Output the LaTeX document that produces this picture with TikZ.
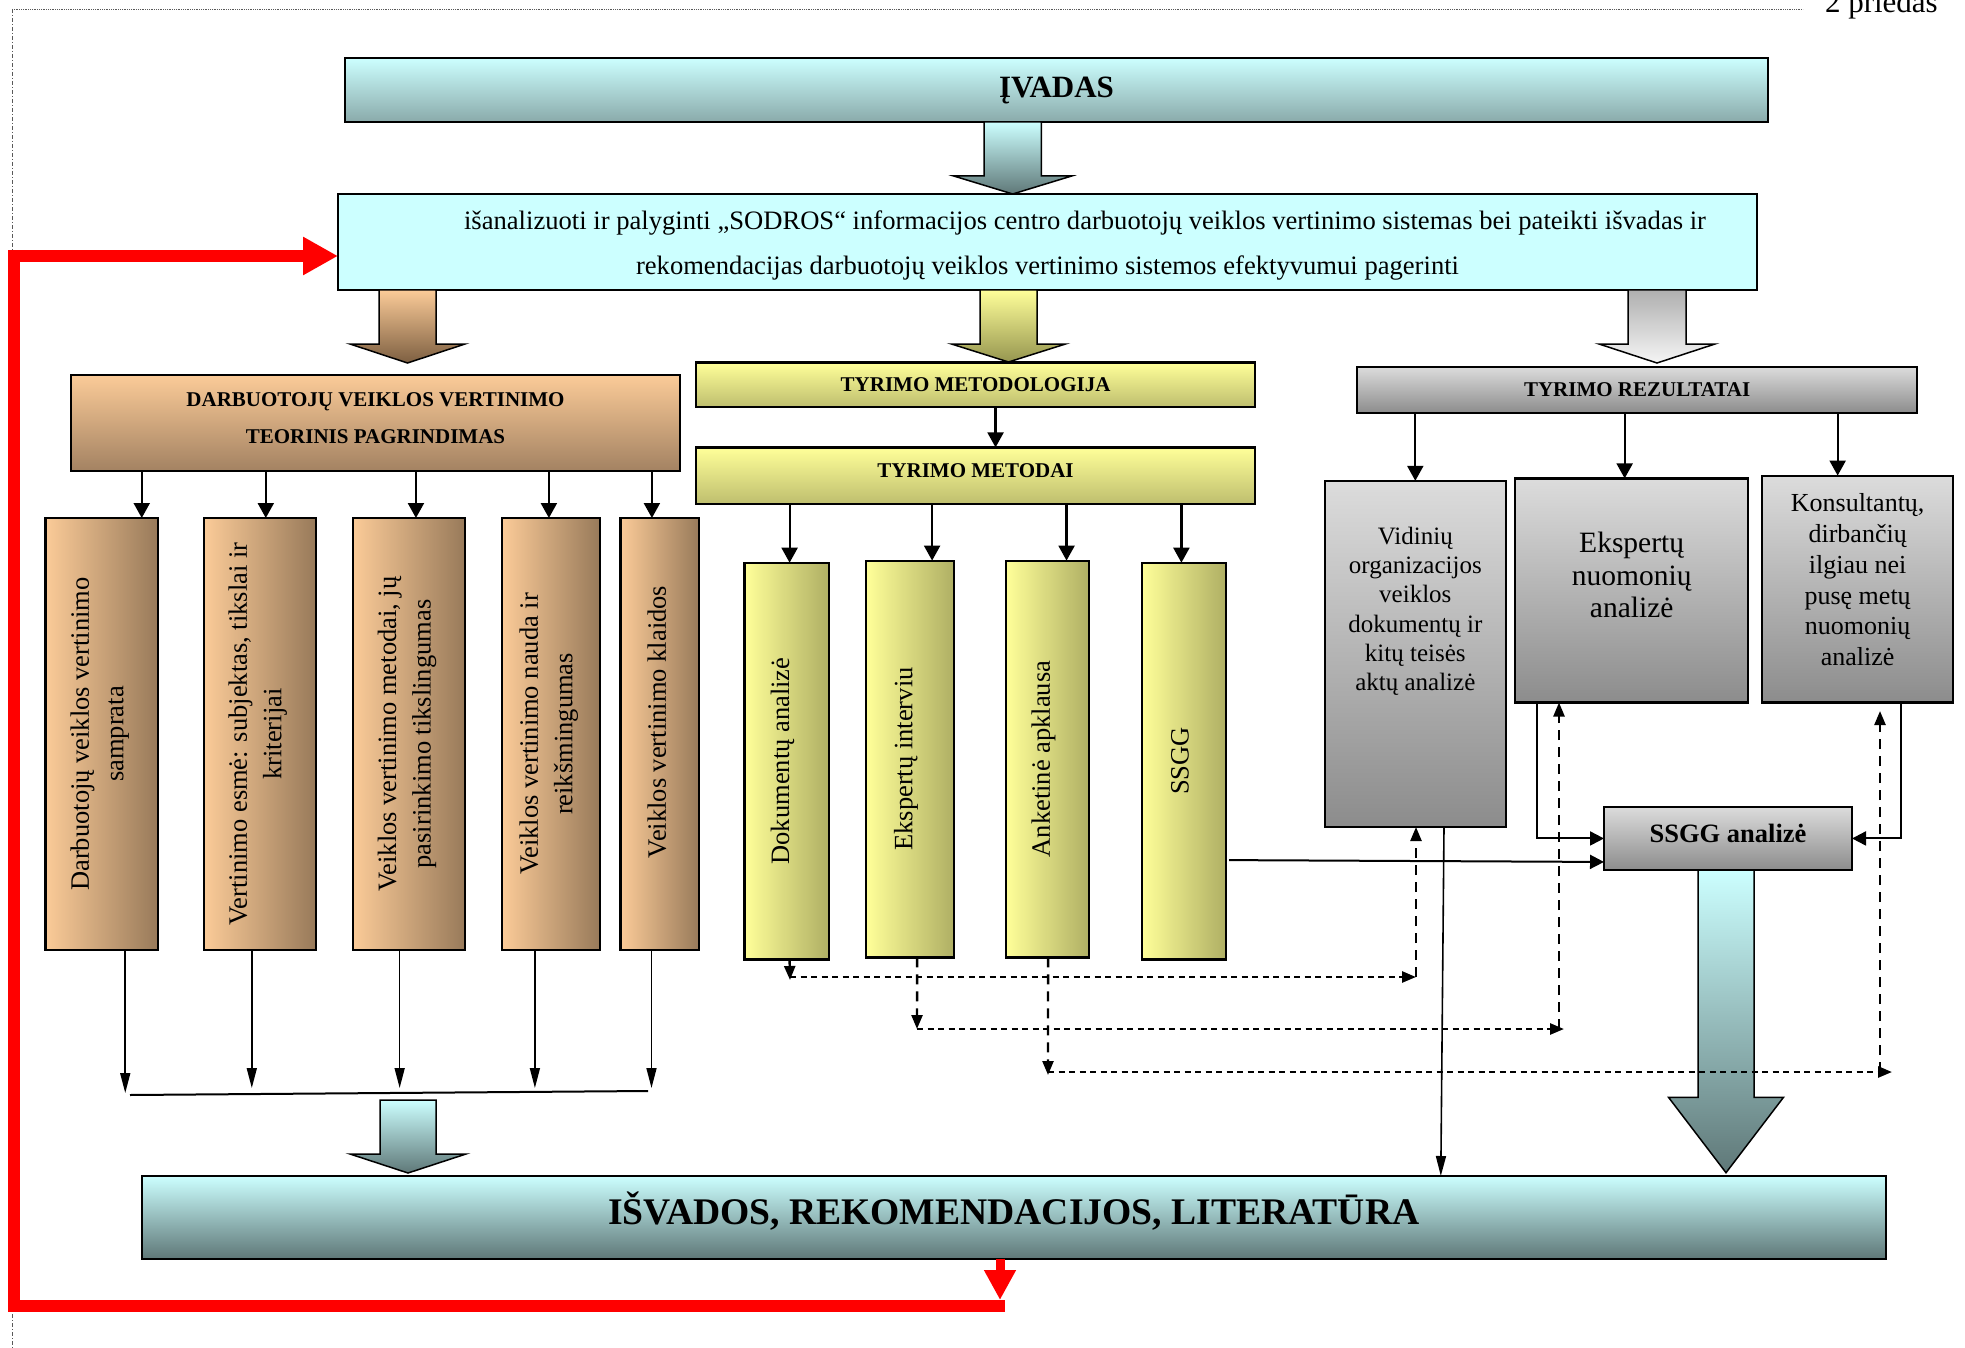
\documentclass[tikz,border=0pt]{standalone}
\usepackage{fontspec}
\setmainfont{Liberation Serif}
\usetikzlibrary{arrows.meta,calc}

\definecolor{cyanlt}{RGB}{204,255,255}
\definecolor{tealmd}{RGB}{138,170,170}
\definecolor{tealdk}{RGB}{95,120,120}
\definecolor{tanlt}{RGB}{251,203,152}
\definecolor{tandk}{RGB}{163,130,98}
\definecolor{tanbar}{RGB}{152,122,90}
\definecolor{tanarr}{RGB}{125,95,65}
\definecolor{yellt}{RGB}{255,255,153}
\definecolor{yeldk}{RGB}{190,190,110}
\definecolor{yelbar}{RGB}{175,175,100}
\definecolor{yelarr}{RGB}{150,150,80}
\definecolor{graylt}{RGB}{220,220,220}
\definecolor{graydk}{RGB}{140,140,140}
\definecolor{grayarr}{RGB}{175,175,175}
\definecolor{grayend}{RGB}{245,245,245}

% box given by its top-left and bottom-right corners (x right, y down)
\newcommand\boxat[7]{%
  \node[box,#6,minimum width={#4-#2},minimum height={#5-#3}] (#1) at (#2,#3) {#7};}
% broad block arrow pointing down: centre x, top, head start, tip, half shaft, half head
\newcommand\blkarrow[7]{%
  \path[draw=black,line width=1.5pt,line join=miter,#7]
    ({#1-#5},#2) -- ({#1+#5},#2) -- ({#1+#5},#3) -- ({#1+#6},#3) -- (#1,#4)
    -- ({#1-#6},#3) -- ({#1-#5},#3) -- cycle;}

\tikzset{
  every node/.style={inner sep=0pt,outer sep=0pt},
  box/.style={draw=black,line width=2.2pt,anchor=north west,align=center},
  hdr/.style={font=\fontsize{21}{36.5}\selectfont\bfseries},
  cyanbox/.style={top color=cyanlt,bottom color=tealmd},
  cyandark/.style={top color=cyanlt,bottom color=tealdk},
  tanhdr/.style={top color=tanlt,bottom color=tandk},
  tanbarst/.style={left color=tanlt,right color=tanbar},
  yelhdr/.style={top color=yellt,bottom color=yeldk},
  yelbarst/.style={left color=yellt,right color=yelbar},
  grayhdr/.style={top color=graylt,bottom color=graydk},
  bartext/.style={rotate=90,align=center,font=\fontsize{26.5}{34.5}\selectfont},
  arr/.style={line width=2.2pt,-{Triangle[length=15pt,width=16pt]}},
  thinarr/.style={line width=1.6pt,-{Triangle[length=20pt,width=10pt]}},
  dsh/.style={line width=2.4pt,dash pattern=on 10pt off 7pt,-{Triangle[length=14pt,width=11pt]}},
  dtt/.style={line width=2.6pt,dash pattern=on 6pt off 4.5pt,-{Triangle[length=14pt,width=11pt]}},
  redln/.style={draw=red,line join=miter},
}

\begin{document}
\begin{tikzpicture}[x=1pt,y=-1pt]
\useasboundingbox (0,0) rectangle (1965,1348);

% page frame lines and page label
\draw[gray!70!black,line width=0.8pt,densely dotted] (12,9) -- (1803,9);
\draw[gray!70!black,line width=0.8pt,dash pattern=on 4pt off 2pt on 1pt off 2pt] (12,9) -- (12,1348);
\node[overlay,anchor=base west,font=\fontsize{31}{36}\selectfont] (pried) at (1825,13) {2 priedas};

% top row
\boxat{ivadas}{345}{58}{1768}{122}{cyanbox}{\fontsize{31}{36}\selectfont\bfseries ĮVADAS}
\blkarrow{1012.7}{122}{176}{194}{28.7}{59}{top color=cyanlt,bottom color=tealdk}
\boxat{obj}{338}{194}{1757}{290}{fill=cyanlt}{}
\node[align=center,font=\fontsize{26.6}{45}\selectfont] (objt) at ([yshift=-4]obj.center) {%
  \hspace*{75pt}išanalizuoti ir palyginti „SODROS“ informacijos centro darbuotojų veiklos vertinimo sistemas bei pateikti išvadas ir\\
  rekomendacijas darbuotojų veiklos vertinimo sistemos efektyvumui pagerinti};

\blkarrow{407.5}{290}{344}{363}{28.5}{57.5}{top color=tanlt,bottom color=tanarr}
\blkarrow{1008.5}{290}{344}{362}{28.5}{57}{top color=yellt,bottom color=yelarr}
\blkarrow{1657}{290}{344}{363}{29}{58}{top color=grayarr,bottom color=grayend}

% theory branch
\boxat{darb}{71}{375}{680}{471}{tanhdr}{}
\node[align=center,hdr] (darbt) at ([yshift=5]darb.center) {DARBUOTOJŲ VEIKLOS VERTINIMO\\TEORINIS PAGRINDIMAS};
\boxat{b1}{45.5}{518}{158}{950}{tanbarst}{}
\boxat{b2}{204}{518}{315.6}{950}{tanbarst}{}
\boxat{b3}{352.7}{518}{465.2}{950}{tanbarst}{}
\boxat{b4}{501.8}{518}{600}{950}{tanbarst}{}
\boxat{b5}{620.5}{518}{699.3}{950}{tanbarst}{}
\node[bartext] (b1t) at ([xshift=-2]b1.center) {Darbuotojų veiklos vertinimo\\samprata};
\node[bartext] (b2t) at ([xshift=-2]b2.center) {Vertinimo esmė: subjektas, tikslai ir\\kriterijai};
\node[bartext] (b3t) at ([xshift=-2]b3.center) {Veiklos vertinimo metodai, jų\\pasirinkimo tikslingumas};
\node[bartext] (b4t) at ([xshift=-2]b4.center) {Veiklos vertinimo nauda ir\\reikšmingumas};
\node[bartext] (b5t) at ([xshift=-3,yshift=12]b5.center) {Veiklos vertinimo klaidos};

\path ([xshift=40]b1.north) coordinate (t1) ([xshift=6]b2.north) coordinate (t2)
      ([xshift=7]b3.north) coordinate (t3) ([xshift=-2]b4.north) coordinate (t4)
      ([xshift=-8]b5.north) coordinate (t5);
\foreach \i in {1,...,5} \draw[arr] (t\i |- darb.south) -- (t\i);

\coordinate (cl) at (130,1095);
\coordinate (cr) at (648,1091);
\draw[line width=2pt] (cl) -- (cr);
\draw[thinarr] ([xshift=23.5]b1.south) -- ++(0,143);
\draw[thinarr] ([xshift=-8]b2.south) -- ++(0,138);
\draw[thinarr] ([xshift=-9.3]b3.south) -- ++(0,138);
\draw[thinarr] ([xshift=-16]b4.south) -- ++(0,138);
\draw[thinarr] ([xshift=-8.4]b5.south) -- ++(0,138);
\blkarrow{408}{1100}{1154}{1173}{28}{58}{top color=cyanlt,bottom color=tealdk}

% method branch
\boxat{meto}{695.8}{362.4}{1255.3}{407.2}{yelhdr,hdr}{TYRIMO METODOLOGIJA}
\boxat{metd}{695.8}{447.4}{1255.3}{504.2}{yelhdr}{}
\node[hdr] (metdt) at ([yshift=5]metd.center) {TYRIMO METODAI};
\draw[arr] ([xshift=20]meto.south) -- ([xshift=20]metd.north);
\boxat{y1}{744.5}{562.7}{828.7}{959.5}{yelbarst}{}
\boxat{y2}{866.2}{560.6}{954}{957.4}{yelbarst}{}
\boxat{y3}{1005.8}{560.6}{1089.3}{957.4}{yelbarst}{}
\boxat{y4}{1141.8}{562.7}{1226}{959.5}{yelbarst}{}
\node[bartext] (y1t) at ([xshift=-4]y1.center) {Dokumentų analizė};
\node[bartext] (y2t) at ([xshift=-4]y2.center) {Ekspertų interviu};
\node[bartext] (y3t) at ([xshift=-4]y3.center) {Anketinė apklausa};
\node[bartext] (y4t) at ([xshift=-4]y4.center) {SSGG};
\path ([xshift=3]y1.north) coordinate (m1) ([xshift=22]y2.north) coordinate (m2)
      ([xshift=19]y3.north) coordinate (m3) ([xshift=-2.5]y4.north) coordinate (m4);
\foreach \i in {1,...,4} \draw[arr] (m\i |- metd.south) -- (m\i);

% conclusions
\boxat{isv}{141.6}{1176}{1886}{1258.7}{cyandark}{}
\node[font=\fontsize{37.6}{42}\selectfont\bfseries] (isvt) at ([yshift=6]isv.center) {IŠVADOS, REKOMENDACIJOS, LITERATŪRA};

% results branch
\boxat{rez}{1357.3}{366.8}{1917}{413}{grayhdr,hdr}{TYRIMO REZULTATAI}
\boxat{g1}{1324.6}{480.8}{1506}{827}{grayhdr}{}
\boxat{g2}{1515}{478.4}{1748.3}{702.5}{grayhdr}{}
\boxat{g3}{1762.3}{475.6}{1953}{702.5}{grayhdr}{}
\node[anchor=north,align=center,font=\fontsize{25}{29.3}\selectfont] (g1t) at ([yshift=-46]g1.north)
  {Vidinių\\organizacijos\\veiklos\\dokumentų ir\\kitų teisės\\aktų analizė};
\node[anchor=north,align=center,font=\fontsize{29.5}{32.5}\selectfont] (g2t) at ([yshift=-54]g2.north)
  {Ekspertų\\nuomonių\\analizė};
\node[anchor=north,align=center,font=\fontsize{26}{30.8}\selectfont] (g3t) at ([yshift=-18]g3.north)
  {Konsultantų,\\dirbančių\\ilgiau nei\\pusę metų\\nuomonių\\analizė};
\path ([xshift=0]g1.north) coordinate (r1) ([xshift=-7]g2.north) coordinate (r2)
      ([xshift=-20]g3.north) coordinate (r3);
\foreach \i in {1,2,3} \draw[arr] (r\i |- rez.south) -- (r\i);

\boxat{ssgg}{1604}{806.7}{1852}{870.2}{grayhdr}{}
\node[font=\fontsize{26.5}{30}\selectfont\bfseries] (ssggt) at ([yshift=5]ssgg.center) {SSGG analizė};
\draw[line width=2pt,-{Triangle[length=14pt,width=14pt]}] ([xshift=-94.6]g2.south) |- (ssgg.west);
\draw[line width=2pt,-{Triangle[length=14pt,width=14pt]}] ([xshift=43.8]g3.south) |- (ssgg.east);
\draw[line width=2pt,-{Triangle[length=14pt,width=14pt]}] ([yshift=-99,xshift=3]y4.east) -- ([yshift=-23.5]ssgg.west);
\draw[thinarr] ([xshift=28.7]g1.south) -- ([xshift=427]isv.north);
\blkarrow{1726}{870.2}{1097.3}{1172.7}{28}{57.5}{top color=cyanlt,bottom color=tealdk}

% dashed links from the methods to the results
\coordinate (d1a) at (790,977);   \coordinate (d1b) at (1416,977);
\coordinate (d2a) at (917,1029);  \coordinate (d2b) at (1564,1029); \coordinate (d2c) at (1559,1029);
\coordinate (d3a) at (1048,1072); \coordinate (d3b) at (1892,1072); \coordinate (d3c) at (1880,1072);
\coordinate (d3t) at (1880,711);
\draw[dsh] ([xshift=3]y1.south) -- ([yshift=-3]d1a);
\draw[dtt] (d1a) -- (d1b);
\draw[dsh] (d1b) -- (d1b |- g1.south);
\draw[dsh] ([xshift=7]y2.south) -- (d2a);
\draw[dtt] (d2a) -- (d2b);
\draw[dsh] (d2c) -- (d2c |- g2.south);
\draw[dsh] ([xshift=0.5]y3.south) -- ([yshift=-3]d3a);
\draw[dtt] (d3a) -- (d3b);
\draw[dsh] (d3c) -- (d3t);

% feedback loop back to the objective
\coordinate (rb) at (1000,1306);
\coordinate (rbt) at (1000,1300);
\coordinate (rl) at (14,1306);
\draw[redln,line width=9pt,-{Triangle[length=30pt,width=30pt]}] (isv.south -| rb) -- (rbt);
\draw[redln,line width=12pt,-{Triangle[length=35pt,width=36pt]}] ([xshift=5]rb) -- (rl) |- ([yshift=-14]obj.west);
\end{tikzpicture}
\end{document}
